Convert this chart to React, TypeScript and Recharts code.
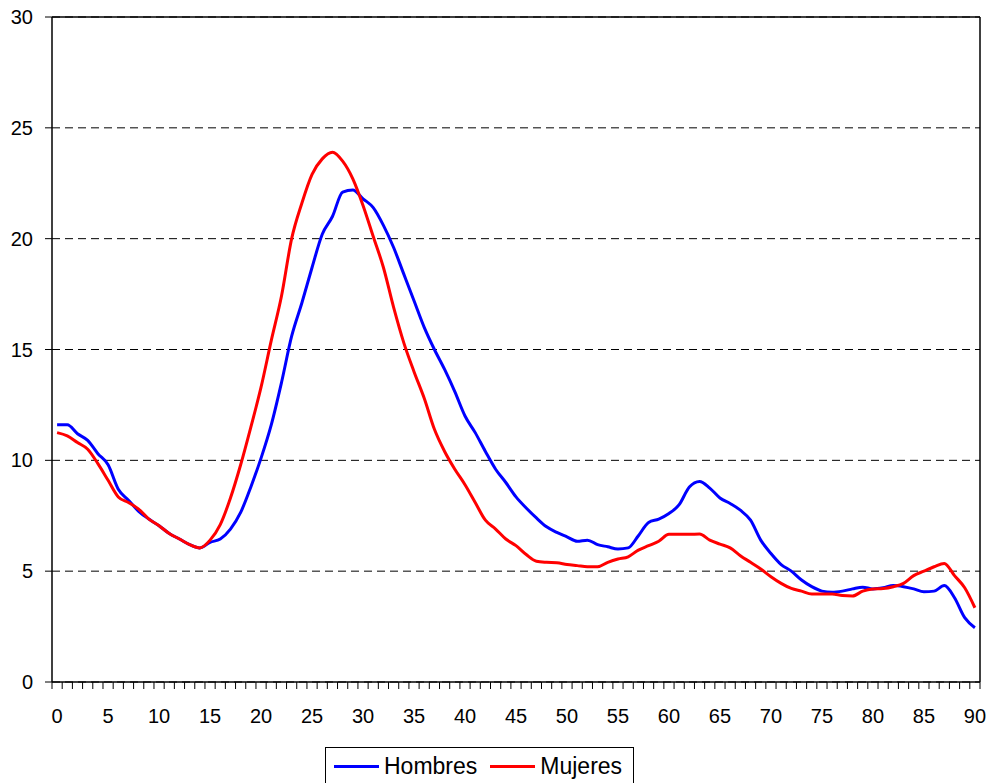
import React from "react";
import {
  LineChart,
  Line,
  XAxis,
  YAxis,
  CartesianGrid,
  ReferenceLine,
  Legend,
} from "recharts";

const ages = [
  0, 1, 2, 3, 4, 5, 6, 7, 8, 9, 10, 11, 12, 13, 14, 15, 16, 17, 18, 19, 20,
  21, 22, 23, 24, 25, 26, 27, 28, 29, 30, 31, 32, 33, 34, 35, 36, 37, 38, 39,
  40, 41, 42, 43, 44, 45, 46, 47, 48, 49, 50, 51, 52, 53, 54, 55, 56, 57, 58,
  59, 60, 61, 62, 63, 64, 65, 66, 67, 68, 69, 70, 71, 72, 73, 74, 75, 76, 77,
  78, 79, 80, 81, 82, 83, 84, 85, 86, 87, 88, 89, 90,
];

const hombres = [
  11.6, 11.6, 11.2, 10.9, 10.3, 9.8, 8.7, 8.2, 7.7, 7.35, 7.05, 6.7, 6.45, 6.2,
  6.05, 6.3, 6.45, 6.9, 7.65, 8.8, 10.1, 11.6, 13.5, 15.6, 17.1, 18.7, 20.2,
  21.0, 22.1, 22.2, 21.8, 21.4, 20.6, 19.6, 18.4, 17.2, 16.0, 15.0, 14.1, 13.1,
  12.0, 11.25, 10.4, 9.6, 9.0, 8.35, 7.85, 7.4, 7.0, 6.75, 6.55, 6.35, 6.4,
  6.2, 6.1, 6.0, 6.05, 6.6, 7.2, 7.35, 7.6, 8.0, 8.8, 9.05, 8.75, 8.3, 8.05,
  7.75, 7.3, 6.4, 5.8, 5.3, 5.0, 4.6, 4.3, 4.1, 4.05, 4.1, 4.2, 4.28, 4.2,
  4.25, 4.35, 4.3, 4.2, 4.07, 4.1, 4.35, 3.8, 2.9, 2.45,
];

const mujeres = [
  11.25, 11.1, 10.8, 10.5, 9.85, 9.1, 8.35, 8.1, 7.8, 7.35, 7.05, 6.7, 6.45,
  6.2, 6.05, 6.4, 7.1, 8.3, 9.8, 11.5, 13.3, 15.4, 17.4, 20.0, 21.6, 22.9,
  23.6, 23.9, 23.5, 22.7, 21.5, 20.1, 18.7, 16.9, 15.3, 14.0, 12.8, 11.4, 10.4,
  9.6, 8.9, 8.1, 7.3, 6.9, 6.45, 6.15, 5.75, 5.45, 5.4, 5.38, 5.3, 5.25, 5.2,
  5.2, 5.4, 5.55, 5.65, 5.95, 6.15, 6.35, 6.66, 6.66, 6.66, 6.68, 6.4, 6.22,
  6.05, 5.7, 5.4, 5.1, 4.75, 4.45, 4.22, 4.1, 3.97, 3.97, 3.97, 3.9, 3.88, 4.1,
  4.2, 4.22, 4.3, 4.45, 4.8, 5.0, 5.2, 5.35, 4.8, 4.25, 3.35,
];

const xLabelTicks = [0, 5, 10, 15, 20, 25, 30, 35, 40, 45, 50, 55, 60, 65, 70, 75, 80, 85, 90];
// tick marks sit between the categories, like Excel does
const xMarkTicks = [-0.5, ...ages.map((a) => a + 0.5)];
const yTicks = [0, 5, 10, 15, 20, 25, 30];

const data = ages.map((age, i) => ({
  age,
  Hombres: hombres[i],
  Mujeres: mujeres[i],
}));

const FONT = "'Liberation Sans', Arial, sans-serif";

const NoLabel = () => <g />;

const renderLegend = () => (
  <div
    style={{
      boxSizing: "border-box",
      width: 309,
      height: 40,
      border: "1px solid #000",
      background: "#fff",
      display: "flex",
      alignItems: "center",
      paddingLeft: 8,
      paddingBottom: 2,
      fontFamily: FONT,
      fontSize: 23,
      color: "#000",
    }}
  >
    <span style={{ display: "inline-block", width: 45, height: 3, background: "#0000FF", marginRight: 5 }} />
    <span style={{ marginRight: 13 }}>Hombres</span>
    <span style={{ display: "inline-block", width: 45, height: 3, background: "#FF0000", marginRight: 5 }} />
    <span>Mujeres</span>
  </div>
);

export default function App() {
  return (
    <div style={{ position: "absolute", left: 0, top: 0, background: "#fff" }}>
      <LineChart
        width={992}
        height={783}
        data={data}
        margin={{ top: 17, right: 12, left: 0, bottom: 61 }}
      >
        <CartesianGrid
          xAxisId="a"
          vertical={false}
          stroke="#000"
          strokeDasharray="8 5"
        />
        <XAxis
          xAxisId="a"
          dataKey="age"
          type="number"
          domain={[-0.5, 90.5]}
          ticks={xMarkTicks}
          tick={<NoLabel />}
          tickSize={7}
          height={1}
          axisLine={{ stroke: "#000", strokeWidth: 1.5 }}
          tickLine={{ stroke: "#000" }}
          interval={0}
        />
        <XAxis
          xAxisId="b"
          dataKey="age"
          type="number"
          domain={[-0.5, 90.5]}
          ticks={xLabelTicks}
          interval={0}
          axisLine={false}
          tickLine={false}
          tickSize={6}
          tickMargin={20}
          height={39}
          tick={{ fill: "#000", fontSize: 20, fontFamily: FONT }}
        />
        <YAxis
          domain={[0, 30]}
          ticks={yTicks}
          interval={0}
          width={52}
          tickSize={7}
          tickMargin={12}
          axisLine={{ stroke: "#000", strokeWidth: 1.5 }}
          tickLine={{ stroke: "#000" }}
          tick={{ fill: "#000", fontSize: 20, fontFamily: FONT }}
        />
        <ReferenceLine xAxisId="a" y={30} stroke="#000" strokeWidth={1.5} />
        <ReferenceLine xAxisId="a" x={90.5} stroke="#000" strokeWidth={1.5} />
        <Legend
          verticalAlign="middle"
          layout="horizontal"
          content={renderLegend}
          wrapperStyle={{ position: "absolute", left: 325, top: 747, width: 309 }}
        />
        <Line
          xAxisId="a"
          type="monotone"
          dataKey="Hombres"
          stroke="#0000FF"
          strokeWidth={3}
          dot={false}
          isAnimationActive={false}
        />
        <Line
          xAxisId="a"
          type="monotone"
          dataKey="Mujeres"
          stroke="#FF0000"
          strokeWidth={3}
          dot={false}
          isAnimationActive={false}
        />
      </LineChart>
    </div>
  );
}
